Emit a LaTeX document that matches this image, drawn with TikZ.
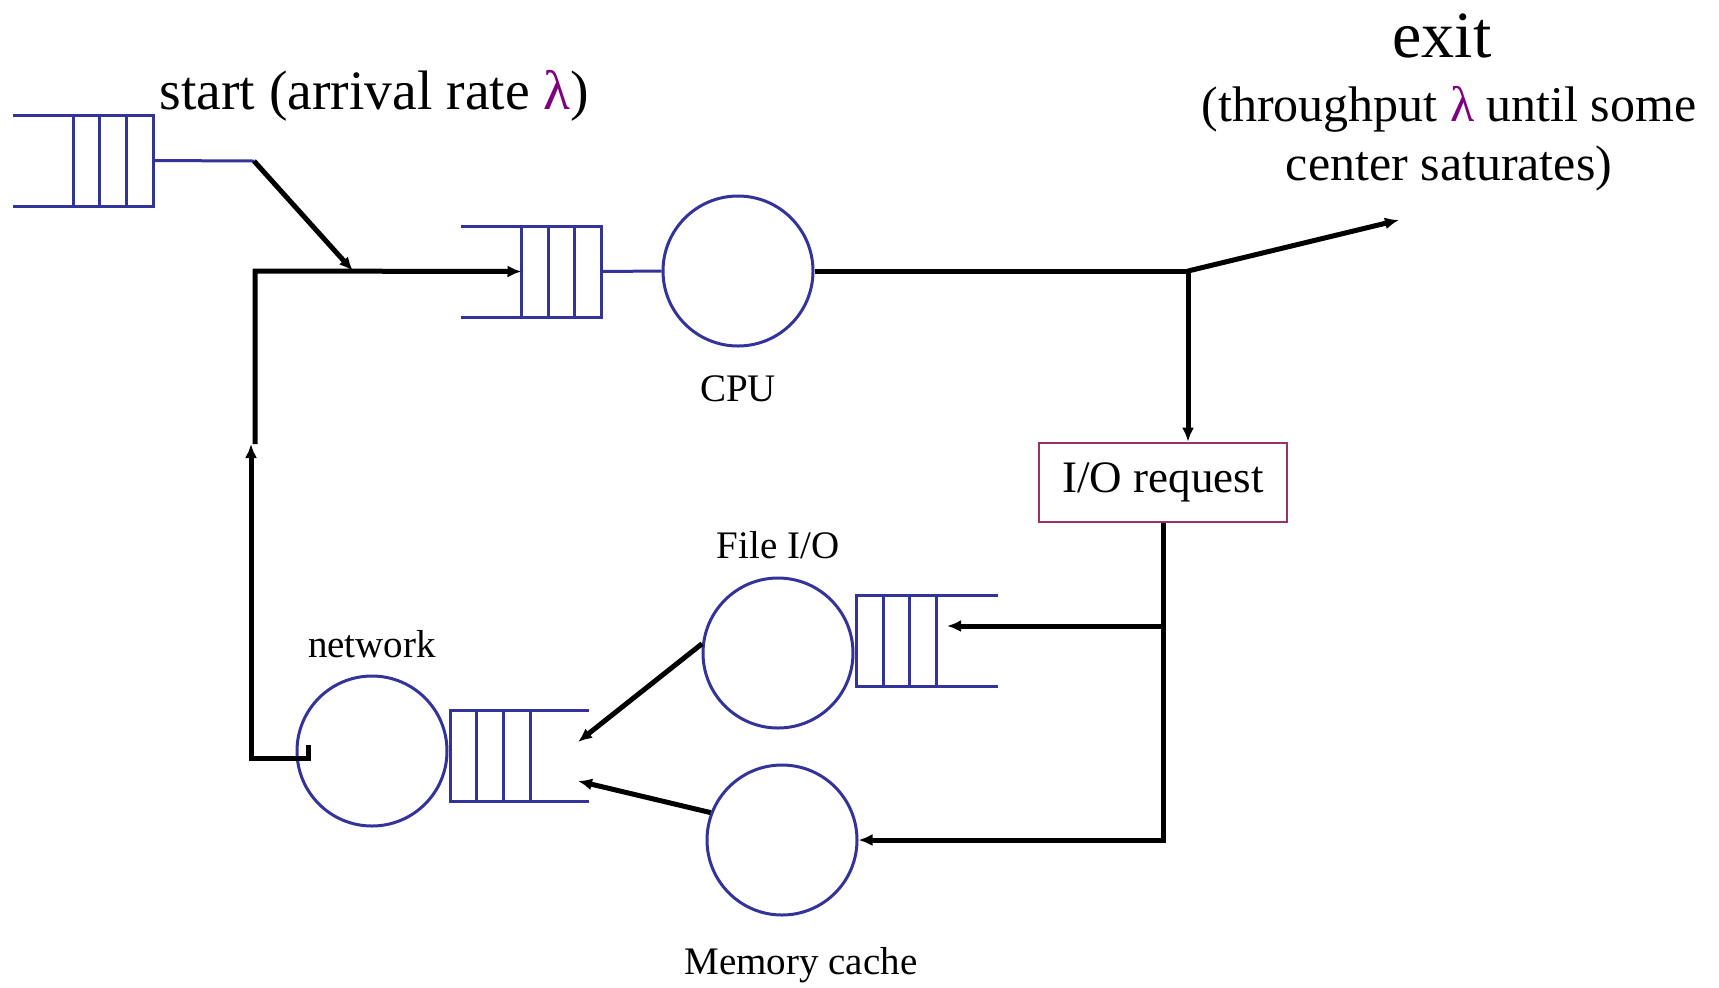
\documentclass[tikz,border=0pt]{standalone}
\usepackage{fontspec}
\setmainfont{Liberation Serif}
\usetikzlibrary{arrows.meta,calc}
\definecolor{qblue}{RGB}{51,51,153}
\definecolor{boxred}{RGB}{153,51,102}
\definecolor{lam}{RGB}{128,0,128}

\begin{document}
\begin{tikzpicture}[
  x=0.5pt, y=-0.5pt,
  qline/.style = {draw=qblue, line width=1.5pt},
  server/.style = {circle, qline, minimum size=75pt, inner sep=0pt},
  qcells/.style = {rectangle, qline, minimum width=40pt, minimum height=45.5pt, inner sep=0pt, outer sep=0pt},
  wire/.style = {line width=2.5pt},
  flow/.style = {wire, -{Latex[length=7pt,width=6pt]}},
  tag/.style = {font=\fontsize{19.5}{23}\selectfont, inner sep=0pt},
  iobox/.style = {rectangle, draw=boxred, line width=1.3pt, minimum width=124pt, minimum height=39.5pt,
                  font=\fontsize{22.5}{27}\selectfont}
]
  \fill[white] (0,0) rectangle (1719,987);

  % arrivals
  \node[qcells] (q1) at (113.25,160.5) {};
  \draw[qline] (q1.north west) -- ++(-60,0) (q1.south west) -- ++(-60,0);
  \coordinate (q1out) at (254,161);
  \draw[qline] (q1.east) -- (q1out);
  \node[anchor=west, inner sep=0pt, font=\fontsize{27.8}{33}\selectfont] (start) at (159,96)
    {start (arrival rate {\color{lam}λ})};
  \coordinate (join) at (353,271);
  \draw[flow] (q1out) -- (join);

  % CPU
  \node[qcells] (q2) at (561.5,271.5) {};
  \draw[qline] (q2.north west) -- ++(-61,0) (q2.south west) -- ++(-61,0);
  \node[server] (cpu) at (738,271) {};
  \draw[qline] (q2.east) -- (cpu.west);
  \node[tag] (cpulbl) at (738,389) {CPU};

  % feedback into the CPU queue
  \coordinate (fbend) at (255,444);
  \coordinate (fbtop) at (255,271);
  \draw[flow] (fbend) -- (fbtop) -- (q2.west);

  % exit
  \coordinate (split) at (1188,271);
  \coordinate (exitpt) at (1399,220);
  \draw[wire] (cpu.east) -- (split);
  \draw[flow] (split) -- (exitpt);
  \node[anchor=base, inner sep=0pt, font=\fontsize{33}{40}\selectfont] (exit) at (1442,57) {exit};
  \node[align=center, inner sep=0pt, font=\fontsize{25}{29.5}\selectfont] (thru) at (1449,139)
    {(throughput {\color{lam}λ} until some\\center saturates)};

  % I/O request
  \node[iobox] (io) at (1163,482.5) {I/O request};
  \draw[flow] (split) -- (split |- io.north);

  % File I/O
  \node[server] (fio) at (778,653) {};
  \node[qcells] (fq) at (896.5,641) {};
  \draw[qline] (fq.north east) -- ++(61,0) (fq.south east) -- ++(61,0);
  \node[tag] (fiolbl) at (778,545) {File I/O};

  % Memory cache
  \node[server] (mem) at (782,840) {};
  \node[tag] (memlbl) at (801,965) {Memory cache};

  \coordinate (iodown) at (1163,840);
  \draw[flow] (io.south) -- (iodown) -- (mem.east);
  \coordinate (tap) at (1165,626);
  \coordinate (fqin) at (947,626);
  \draw[flow] (tap) -- (fqin);

  % network
  \node[server] (net) at (372,751) {};
  \node[qcells] (nq) at (490.25,755.5) {};
  \draw[qline] (nq.north east) -- ++(59,0) (nq.south east) -- ++(59,0);
  \node[tag] (netlbl) at (372,644) {network};
  \coordinate (nin1) at (578,742);
  \coordinate (nin2) at (578,781);
  \draw[flow] (fio.173) -- (nin1);
  \draw[flow] (mem.159) -- (nin2);

  \coordinate (netout) at (308,745);
  \coordinate (netcorner) at (251,758);
  \coordinate (fbback) at (251,444);
  \draw[flow] (netout) |- (netcorner) -- (fbback);

  % cell dividers
  \foreach \q in {q1,q2,fq,nq}
    \foreach \f in {0.333,0.667}
      \draw[qline] ($(\q.north west)!\f!(\q.north east)$) -- ($(\q.south west)!\f!(\q.south east)$);
\end{tikzpicture}
\end{document}
